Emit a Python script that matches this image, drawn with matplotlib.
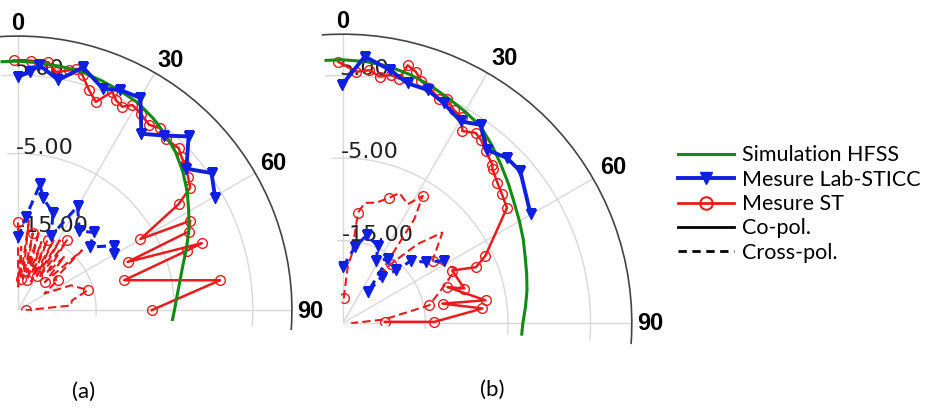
import numpy as np
import matplotlib.pyplot as plt
from matplotlib.lines import Line2D

# ---------------- panel (a) ----------------
green_a_deg = [-4, 0, 5, 10, 15, 20, 25, 30, 35, 40, 45, 50, 55, 60, 65, 70, 75, 80, 85, 90, 95]
green_a_db = [6.8, 6.8, 6.7, 6.6, 6.5, 6.2, 5.9, 5.6, 5.0, 4.3, 3.5, 2.5, 1.4, 0.2, -0.9, -2.1, -3.2, -4.0, -4.6, -5.0, -5.3]

blue_co_a_deg = [0, 3, 5, 10, 15, 21, 25, 30, 35, 40, 44.5, 50, 54.7, 60.3]
blue_co_a_db = [4.8, 5.5, 6.4, 4.85, 7.1, 5.3, 6.0, 6.3, 2.5, 4.1, 6.1, 3.1, 5.3, 4.0]

blue_x_a_deg = [0, 5, 10, 12.6, 19.8, 24.2, 29.9, 37.8, 44.5, 48.7, 56.2, 59.7]
blue_x_a_db = [-15.7, -13.0, -8.7, -10.3, -11.8, -14.6, -9.7, -12.2, -11.1, -12.8, -10.2, -10.8]

red_co_a_deg = [-1, 3, 7, 9, 12, 13.6, 15.4, 18, 20.5, 23.4, 25, 27.2, 29.2, 32, 35.3, 38, 41,
                44.8, 47, 49, 52, 54.6, 56.6, 59.9, 62.6, 65.3, 66.3, 70, 70.6, 74.3, 81.6, 90]
red_co_a_db = [6.9, 6.9, 6.9, 5.8, 6.3, 6.7, 6.1, 4.5, 3.4, 5.4, 4.6, 4.2, 5.0, 4.6, 4.0, 4.5, 3.9,
               4.15, 3.6, 3.3, 2.6, 2.0, -0.4, -6.9, -0.2, -1.0, -9.7, 0.0, -2.1, -10.9, 1.1, -7.9]

red_x_a_deg = [0, 1, 3, 5, 7, 9, 11, 13, 15, 17, 19, 21, 23, 25, 27, 29, 31, 33, 35, 38, 41, 44,
               47, 50, 53, 58, 65, 74, 80, 85, 90]
red_x_a_db = [-13.8, -22, -16.9, -21, -13.4, -21, -15, -20, -14.5, -21, -15.8, -20, -15.3, -21, -15,
              -20, -14.6, -20, -14.1, -19, -15.9, -20, -13.8, -19, -18.6, -21, -17.5, -15.7, -18,
              -18.2, -24]

# ---------------- panel (b) ----------------
green_b_deg = [-4, 0, 5, 10, 15, 20, 25, 30, 35, 40, 45, 50, 55, 60, 65, 70, 75, 80, 85, 90, 95]
green_b_db = [6.9, 6.9, 6.8, 6.6, 6.2, 5.7, 5.1, 4.6, 4.1, 3.1, 2.1, 1.2, 0.35, -0.3, -0.9, -1.5, -1.95, -2.35, -2.8, -3.2, -3.3]

blue_co_b_deg = [-0.3, 4.7, 10.5, 15.1, 20, 24.7, 30.3, 34.8, 39.7, 44.8, 49.4, 59.8]
blue_co_b_db = [3.8, 7.4, 6.2, 5.1, 5.05, 4.3, 3.3, 4.25, 2.3, 3.2, 3.3, 1.3]

blue_x_b_deg = [0.3, 8.9, 15.1, 24.4, 28.1, 35, 38.9, 39.9, 45.4, 47.5, 53.8, 58.3]
blue_x_b_db = [-18.2, -15.7, -14, -14.7, -16.4, -15.5, -20.2, -17.7, -15.9, -13.8, -12.5, -10.6]

red_co_b_deg = [-1, 3.1, 6, 8.5, 11, 13, 14.1, 16.2, 18, 20.2, 23.2, 25, 27.5, 30, 31.9, 34.9, 37,
                39.7, 43.3, 44.2, 47.7, 51, 54.9, 64.7, 67.2, 64.3, 74.1, 71, 80.9, 78.9, 84, 89.2, 88.2]
red_co_b_db = [6.65, 5.5, 5.8, 5.2, 5.6, 5.4, 7.2, 6.7, 5.8, 5.3, 4.6, 4.9, 4.1, 3.8, 2.4, 3.1, 2.8,
               2.1, 1.4, 1.0, 0.3, -0.2, -0.7, -5.9, -7.5, -10.3, -9.7, -11.6, -7.5, -12.7, -8.0, -13.9, -19.9]

red_x_b_deg = [2, 5, 7.3, 7.8, 10.3, 15.5, 20.4, 23.5, 28.6, 32.1, 34.5, 37.3, 39.2, 43.4, 47.7,
               55.1, 64.3, 70, 78.3, 85, 90]
red_x_b_db = [-22, -18, -16.7, -11.5, -10.2, -9.85, -8.8, -7.8, -8.6, -6.8, -9.7, -18, -15.7, -11.8,
              -8.7, -11.75, -9.8, -12, -14.3, -20, -24]

angle_ticks = [0, 30, 60, 90]
radial_ticks = [-15, -5, 5]
radial_labels = ['-15.00', '-5.00', '5.00']

GREEN = '#138a13'
BLUE = '#1020e0'
RED = '#e81c1c'

fig = plt.figure(figsize=(9.25, 4.09), dpi=100)


def rad(v):
	return np.deg2rad(np.array(v, dtype=float))


def panel(rect, green, blue_co, blue_x, red_co, red_x, lab_pos):
	ax = fig.add_axes(rect, projection='polar')
	ax.set_theta_zero_location('N')
	ax.set_theta_direction(-1)
	ax.set_thetamin(-4)
	ax.set_thetamax(94)
	ax.set_rlim(-25, 10)
	ax.set_axisbelow(True)

	ax.set_xticks(rad(angle_ticks))
	ax.set_xticklabels([])
	ax.set_xticks(rad(np.arange(0, 91, 5)), minor=True)
	ax.tick_params(axis='x', which='major', direction='in', length=8, width=1, color='#444444')
	ax.tick_params(axis='x', which='minor', direction='in', length=4, width=1, color='#444444')
	ax.set_yticks(radial_ticks)
	ax.set_yticklabels([])
	ax.tick_params(axis='y', length=0)
	ax.grid(True, which='major', color='#d8d8d8', lw=1)

	# draw() switches start/end back on for a wedge, so hide them by colour
	for s in ['start', 'end', 'inner']:
		ax.spines[s].set_color('none')
	ax.spines['polar'].set_color('#444444')
	ax.spines['polar'].set_linewidth(1.2)

	for r, t in zip(radial_ticks, radial_labels):
		ax.text(rad(-0.8), r, t, ha='left', va='baseline', fontsize=16,
				family='DejaVu Sans', color='#222222', zorder=1)

	for a, (th, r) in zip(angle_ticks, lab_pos):
		ax.text(rad(th), r, str(a), ha='center', va='center', fontsize=17,
				fontweight='bold', family='Liberation Sans', clip_on=False)

	ax.plot(rad(red_x[0]), red_x[1], color=RED, lw=1.5, ls=(0, (4, 2)), marker='o', ms=7,
			mfc='none', mec=RED, mew=1, markevery=3, zorder=3)
	ax.plot(rad(red_co[0]), red_co[1], color=RED, lw=1.8, marker='o', ms=7,
			mfc='none', mec=RED, mew=1, zorder=3)
	ax.plot(rad(green[0]), green[1], color=GREEN, lw=2.2, zorder=4)
	ax.plot(rad(blue_x[0]), blue_x[1], color=BLUE, lw=2.2, ls=(0, (3, 2)), marker='v', ms=7.5,
			zorder=5)
	ax.plot(rad(blue_co[0]), blue_co[1], color=BLUE, lw=2.8, marker='v', ms=7.5, zorder=5)
	return ax


panel([-0.00135, 0.19499, 0.31919, 0.72188],
	  (green_a_deg, green_a_db), (blue_co_a_deg, blue_co_a_db), (blue_x_a_deg, blue_x_a_db),
	  (red_co_a_deg, red_co_a_db), (red_x_a_deg, red_x_a_db),
	  [(0, 11.6), (31.4, 12.4), (60.2, 12.6), (90.2, 12.3)])

panel([0.34886, 0.16064, 0.33654, 0.76113],
	  (green_b_deg, green_b_db), (blue_co_b_deg, blue_co_b_db), (blue_x_b_deg, blue_x_b_db),
	  (red_co_b_deg, red_co_b_db), (red_x_b_deg, red_x_b_db),
	  [(0, 11.5), (31.4, 12.6), (60, 12.8), (90, 12.2)])

handles = [
	Line2D([], [], color=GREEN, lw=2.2),
	Line2D([], [], color=BLUE, lw=2.8, marker='v', ms=8),
	Line2D([], [], color=RED, lw=2, marker='o', ms=9, mfc='none', mec=RED, mew=1.5),
	Line2D([], [], color='black', lw=2),
	Line2D([], [], color='black', lw=2, ls=(0, (3, 2))),
]
labels = ['Simulation HFSS', 'Mesure Lab-STICC', 'Mesure ST', 'Co-pol.', 'Cross-pol.']
fig.legend(handles, labels, loc='center left', bbox_to_anchor=(0.733, 0.501), frameon=False,
		   prop={'family': 'Lato', 'size': 15.5}, handlelength=2.6, handletextpad=0.35,
		   labelspacing=0.2, borderpad=0, borderaxespad=0)

fig.text(84 / 925, 1 - 392 / 409, '(a)', ha='center', va='center', fontsize=16, family='Lato')
fig.text(492 / 925, 1 - 390 / 409, '(b)', ha='center', va='center', fontsize=16, family='Lato')

fig.savefig('out.png', dpi=100)
